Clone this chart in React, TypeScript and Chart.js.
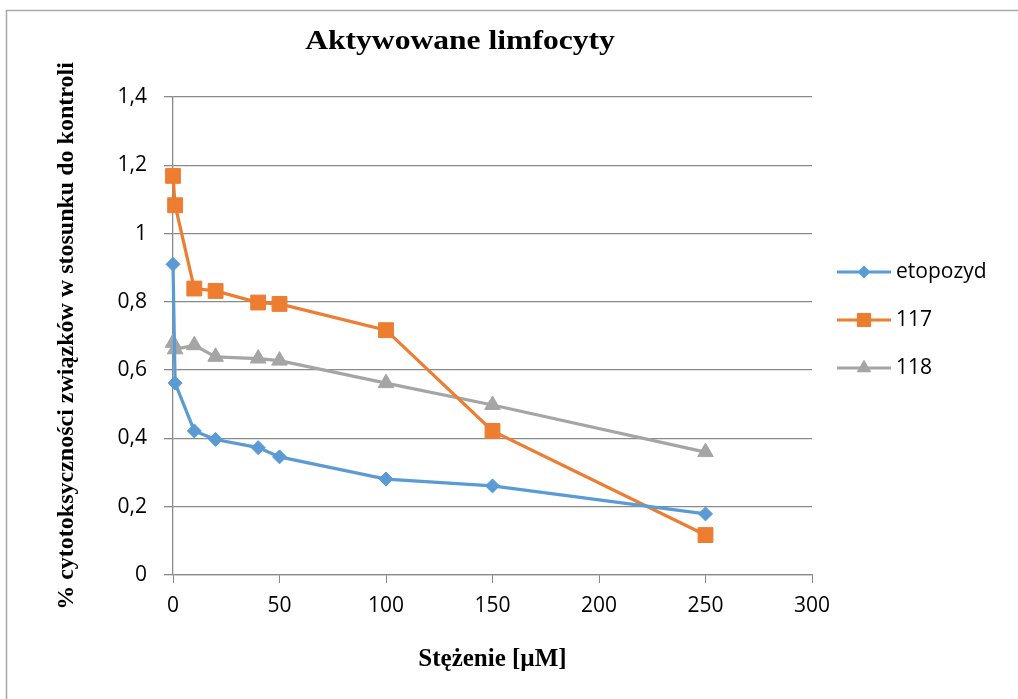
import React, { useEffect, useRef } from "react";
import { Chart, registerables } from "chart.js";

Chart.register(...registerables);

const concentrations = [0, 1, 10, 20, 40, 50, 100, 150, 250];
const etopozyd = [0.91, 0.562, 0.422, 0.397, 0.373, 0.346, 0.281, 0.261, 0.179];
const s117 = [1.169, 1.083, 0.839, 0.832, 0.798, 0.794, 0.717, 0.422, 0.117];
const s118 = [0.68, 0.661, 0.673, 0.639, 0.634, 0.628, 0.562, 0.498, 0.36];
const seriesLabels = ["etopozyd", "117", "118"];
const seriesColors = ["#5B9BD5", "#ED7D31", "#A5A5A5"];
const chartTitle = "Aktywowane limfocyty";
const xTitle = "Stężenie [µM]";
const yTitle = "% cytotoksyczności związków w stosunku do kontroli";

const tickFont = "'Open Sans'";
const gridColor = "#8a8a8a";

function toPoints(ys: number[]) {
  return concentrations.map((x, i) => ({ x, y: ys[i] }));
}

function fmt(v: number) {
  return String(Number(v.toFixed(1))).replace(".", ",");
}

function shape(ctx: CanvasRenderingContext2D, style: string, x: number, y: number, r: number) {
  ctx.beginPath();
  if (style === "rectRot") {
    ctx.moveTo(x, y - r);
    ctx.lineTo(x + r, y);
    ctx.lineTo(x, y + r);
    ctx.lineTo(x - r, y);
  } else if (style === "rect") {
    const s = r * Math.SQRT1_2;
    ctx.rect(x - s, y - s, 2 * s, 2 * s);
  } else {
    ctx.moveTo(x, y - r);
    ctx.lineTo(x + r * 0.866, y + r * 0.5);
    ctx.lineTo(x - r * 0.866, y + r * 0.5);
  }
  ctx.closePath();
  ctx.fill();
}

const decorPlugin = {
  id: "decor",
  beforeDraw(chart: any) {
    const ctx = chart.ctx as CanvasRenderingContext2D;
    ctx.save();
    ctx.fillStyle = "#ffffff";
    ctx.fillRect(0, 0, chart.width, chart.height);
    ctx.strokeStyle = "#a6a6a6";
    ctx.lineWidth = 1.5;
    ctx.beginPath();
    ctx.moveTo(6.5, 1200);
    ctx.lineTo(6.5, 10.5);
    ctx.lineTo(1200, 10.5);
    ctx.stroke();
    ctx.restore();
  },
  afterDraw(chart: any) {
    const ctx = chart.ctx as CanvasRenderingContext2D;
    ctx.save();
    // title
    ctx.fillStyle = "#000";
    ctx.font = "bold 27px 'Liberation Serif'";
    ctx.textAlign = "center";
    ctx.textBaseline = "alphabetic";
    ctx.translate(460, 49);
    ctx.scale(1.17, 1);
    ctx.fillText(chartTitle, 0, 0);
    ctx.setTransform(1, 0, 0, 1, 0, 0);
    // legend
    const sizes = [6.5, 10, 8.5];
    chart.data.datasets.forEach((ds: any, i: number) => {
      const y = 272 + i * 48;
      ctx.strokeStyle = ds.borderColor;
      ctx.lineWidth = 3.2;
      ctx.beginPath();
      ctx.moveTo(837, y);
      ctx.lineTo(891, y);
      ctx.stroke();
      ctx.fillStyle = ds.backgroundColor;
      shape(ctx, ds.pointStyle, 864, y, sizes[i]);
      ctx.fillStyle = "#000";
      ctx.font = `21px ${tickFont}`;
      ctx.textAlign = "left";
      ctx.textBaseline = "middle";
      ctx.fillText(ds.label, 896, y);
    });
    ctx.restore();
  },
};

export default function App() {
  const ref = useRef<HTMLCanvasElement>(null);
  useEffect(() => {
    if (!ref.current) return;
    const styles = ["rectRot", "rect", "triangle"];
    const radii = [7, 10.5, 9];
    const allData = [etopozyd, s117, s118];
    const chart = new Chart(ref.current, {
      type: "line",
      data: {
        datasets: allData.map((d, i) => ({
          label: seriesLabels[i],
          data: toPoints(d),
          borderColor: seriesColors[i],
          backgroundColor: seriesColors[i],
          borderWidth: 3.2,
          pointStyle: styles[i],
          pointRadius: radii[i],
          pointBorderWidth: 1,
          pointBackgroundColor: seriesColors[i],
          pointBorderColor: seriesColors[i],
          tension: 0,
          clip: false,
        })),
      },
      options: {
        animation: false,
        responsive: false,
        layout: { padding: { top: 97, right: 206, bottom: 0, left: 0 } },
        plugins: {
          legend: { display: false },
          title: { display: false },
          tooltip: { enabled: false },
        },
        scales: {
          x: {
            type: "linear",
            min: 0,
            max: 300,
            afterFit: (s: any) => {
              s.height = 124;
            },
            ticks: {
              stepSize: 50,
              padding: 10,
              color: "#000",
              font: { family: tickFont, size: 21, lineHeight: 1.2 },
              maxRotation: 0,
            },
            grid: {
              drawOnChartArea: false,
              drawTicks: true,
              tickLength: 8,
              color: gridColor,
              lineWidth: 1,
            },
            border: { color: gridColor, width: 1.3 },
            title: {
              display: true,
              text: xTitle,
              color: "#000",
              font: { family: "'Liberation Serif'", size: 25, weight: "bold", lineHeight: 1.2 },
              padding: { top: 0, bottom: 24 },
            },
          },
          y: {
            type: "linear",
            min: 0,
            max: 1.4,
            afterFit: (s: any) => {
              s.width = 173;
            },
            ticks: {
              stepSize: 0.2,
              padding: 17,
              color: "#000",
              font: { family: tickFont, size: 21, lineHeight: 1.2 },
              callback: (v: any) => fmt(Number(v)),
            },
            grid: {
              drawTicks: true,
              tickLength: 9,
              color: gridColor,
              lineWidth: 1.3,
            },
            border: { color: gridColor, width: 1.3 },
            title: {
              display: true,
              text: yTitle,
              color: "#000",
              font: { family: "'Liberation Serif'", size: 24, weight: "bold", lineHeight: 1.2 },
              padding: { top: 52, bottom: 0 },
            },
          },
        },
      },
      plugins: [decorPlugin],
    } as any);
    return () => chart.destroy();
  }, []);
  return (
    <div style={{ position: "fixed", left: 0, top: 0, width: 1018, height: 699, background: "#fff" }}>
      <canvas ref={ref} width={1018} height={699} style={{ display: "block" }} />
    </div>
  );
}
